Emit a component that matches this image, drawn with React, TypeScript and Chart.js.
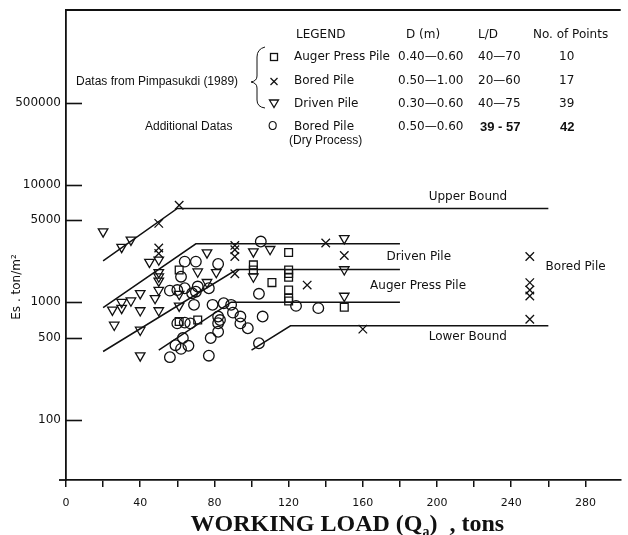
import React, { useEffect, useRef } from 'react';
import { Chart, registerables } from 'chart.js';

Chart.register(...registerables);

// ---- data ----
const drivenX = [20, 30, 35, 45, 50, 50, 50, 50, 25, 30, 30, 35, 40, 40, 48, 50, 50, 26, 40, 40, 61, 61, 71, 76, 76, 81, 101, 101, 110, 150, 150, 150];
const drivenY = [4000, 2950, 3400, 2200, 2300, 1800, 1650, 1520, 860, 890, 1000, 1030, 1190, 850, 1080, 1270, 850, 640, 580, 350, 930, 1170, 1820, 2650, 1480, 1800, 2700, 1650, 2830, 3500, 1900, 1130];

const boredX = [50, 61, 50, 50, 91, 91, 91, 91, 140, 150, 130, 160, 250, 250, 250, 250, 250];
const boredY = [4700, 6700, 2900, 2600, 3050, 2800, 2450, 1750, 3200, 2500, 1400, 590, 2450, 1470, 1270, 1130, 715];

const augerX = [61, 61, 71, 101, 101, 120, 120, 120, 120, 111, 120, 120, 120, 150];
const augerY = [1880, 685, 705, 2080, 1880, 2650, 1880, 1760, 1630, 1470, 1270, 1080, 1025, 905];

const dryX = [105, 64, 70, 82, 62, 56, 60, 64, 70, 71, 77, 69, 79, 85, 89, 104, 60, 64, 67, 82, 83, 90, 94, 94, 98, 106, 82, 78, 63, 59, 62, 66, 56, 77, 104, 124, 136, 82, 68];
const dryY = [3290, 2220, 2220, 2120, 1650, 1255, 1270, 1315, 1230, 1360, 1315, 950, 950, 980, 950, 1180, 660, 670, 660, 755, 705, 815, 755, 660, 600, 755, 560, 495, 495, 430, 400, 425, 340, 350, 447, 930, 890, 662, 1193];

const upperBoundX = [20, 60, 260];
const upperBoundY = [2250, 6300, 6300];
const drivenLineX = [20, 70, 180];
const drivenLineY = [900, 3150, 3150];
const augerLineX = [20, 92, 180];
const augerLineY = [380, 1900, 1900];
const dryLineX = [50, 89, 180];
const dryLineY = [390, 1000, 1000];
const lowerBoundX = [100, 121, 260];
const lowerBoundY = [390, 630, 630];

const lineLabelText = ['Upper Bound', 'Driven Pile', 'Auger Press Pile', 'Lower Bound', 'Bored Pile'];
const lineLabelX = [195.5, 172.8, 163.9, 195.5, 258.5];
const lineLabelY = [7940, 2419, 1385, 503, 1988];

const yTickValues = [100, 500, 1000, 5000, 10000, 50000];
const yTickLabels = ['100', '500', '1000', '5000', '10000', '500000'];
const xMin = 0;
const xMax = 299;
const xMinorStep = 20;
const xLabelStep = 40;

const legendHeader = ['LEGEND', 'D (m)', 'L/D', 'No. of Points'];
const legendNames = ['Auger Press Pile', 'Bored Pile', 'Driven Pile', 'Bored Pile'];
const legendDiam = ['0.40\u20140.60', '0.50\u20141.00', '0.30\u20140.60', '0.50\u20140.60'];
const legendLD = ['40\u201470', '20\u201460', '40\u201475', '39 - 57'];
const legendCount = ['10', '17', '39', '42'];

const INK = '#111';

const pts = (xs: number[], ys: number[]) => xs.map((x, i) => ({ x, y: ys[i] }));

const lineDs = (xs: number[], ys: number[]) => ({
  type: 'line' as const,
  data: pts(xs, ys),
  borderColor: INK,
  borderWidth: 1.5,
  pointRadius: 0,
  fill: false,
  tension: 0,
});

const markDs = (xs: number[], ys: number[], style: string, radius: number, rotation = 0) => ({
  type: 'scatter' as const,
  data: pts(xs, ys),
  pointStyle: style,
  pointRadius: radius,
  pointRotation: rotation,
  pointBorderColor: INK,
  pointBackgroundColor: 'rgba(0,0,0,0)',
  pointBorderWidth: 1.3,
  borderColor: INK,
  backgroundColor: 'rgba(0,0,0,0)',
});

const decor = {
  id: 'decor',
  afterDraw(chart: any) {
    const { ctx, chartArea: a, scales } = chart;
    const x = scales.x;
    const y = scales.y;
    const seg = (x1: number, y1: number, x2: number, y2: number) => {
      ctx.beginPath();
      ctx.moveTo(x1, y1);
      ctx.lineTo(x2, y2);
      ctx.stroke();
    };
    ctx.save();
    ctx.strokeStyle = INK;
    ctx.fillStyle = INK;
    ctx.lineWidth = 1.8;
    // top frame line
    seg(a.left - 1, a.top, a.right, a.top);
    // x axis small extension to the left
    seg(a.left - 7, a.bottom, a.left, a.bottom);
    // inside y ticks
    ctx.lineWidth = 1.6;
    for (const v of yTickValues) {
      const py = Math.round(y.getPixelForValue(v)) + 0.5;
      seg(a.left, py, a.left + 16, py);
    }

    // y axis title
    ctx.save();
    ctx.translate(17, 287);
    ctx.rotate(-Math.PI / 2);
    ctx.font = '12px "DejaVu Sans"';
    ctx.textAlign = 'center';
    ctx.textBaseline = 'middle';
    ctx.fillText('Es . ton/m\u00b2', 0, 0);
    ctx.restore();

    // x axis title with subscript
    {
      const big = 'bold 24px "Liberation Serif"';
      const small = 'bold 14px "Liberation Serif"';
      const p1 = 'WORKING LOAD (Q';
      const sub = 'a';
      const p2 = ')  , tons';
      ctx.font = big;
      const w1 = ctx.measureText(p1).width;
      const w3 = ctx.measureText(p2).width;
      ctx.font = small;
      const w2 = ctx.measureText(sub).width;
      const total = w1 + w2 + w3;
      const cx = (a.left + a.right) / 2 + 4;
      let sx = cx - total / 2;
      const base = 531;
      ctx.textAlign = 'left';
      ctx.textBaseline = 'alphabetic';
      ctx.font = big;
      ctx.fillText(p1, sx, base);
      sx += w1;
      ctx.font = small;
      ctx.fillText(sub, sx, base + 5);
      sx += w2;
      ctx.font = big;
      ctx.fillText(p2, sx, base);
    }

    // labels on the bound lines
    ctx.font = '12px "DejaVu Sans"';
    ctx.textAlign = 'left';
    ctx.textBaseline = 'middle';
    lineLabelText.forEach((t, i) => {
      ctx.fillText(t, x.getPixelForValue(lineLabelX[i]), y.getPixelForValue(lineLabelY[i]));
    });

    // legend table
    const rowY = [57, 81, 104, 127];
    const colName = 294;
    const colD = 398;
    const colLD = 478;
    const colN = 559;
    ctx.font = '12px "DejaVu Sans"';
    ctx.fillText(legendHeader[0], 296, 35);
    ctx.fillText(legendHeader[1], 406, 35);
    ctx.fillText(legendHeader[2], 478, 35);
    ctx.fillText(legendHeader[3], 533, 35);
    for (let i = 0; i < 4; i++) {
      const bold = i === 3;
      ctx.font = '12px "DejaVu Sans"';
      ctx.fillText(legendNames[i], colName, rowY[i]);
      ctx.fillText(legendDiam[i], colD, rowY[i]);
      ctx.font = bold ? 'bold 13px "Liberation Sans"' : '12px "DejaVu Sans"';
      ctx.fillText(legendLD[i], bold ? colLD + 2 : colLD, rowY[i]);
      ctx.fillText(legendCount[i], bold ? colN + 1 : colN, rowY[i]);
    }
    ctx.font = '12px "Liberation Sans"';
    ctx.fillText('(Dry Process)', 289, 141);
    ctx.fillText('Datas from Pimpasukdi (1989)', 76, 82);
    ctx.fillText('Additional Datas', 145, 127);
    ctx.fillText('O', 268, 127);

    // legend symbols
    ctx.lineWidth = 1.3;
    ctx.strokeRect(270.5, 53.5, 7, 7);
    seg(270.5, 78, 277.5, 85);
    seg(277.5, 78, 270.5, 85);
    ctx.beginPath();
    ctx.moveTo(269.5, 100);
    ctx.lineTo(278.5, 100);
    ctx.lineTo(274, 107.5);
    ctx.closePath();
    ctx.stroke();

    // brace
    ctx.lineWidth = 1;
    ctx.beginPath();
    ctx.moveTo(265, 47);
    ctx.quadraticCurveTo(257, 49, 257, 57);
    ctx.lineTo(257, 76);
    ctx.quadraticCurveTo(257, 81, 251, 82);
    ctx.quadraticCurveTo(257, 83, 257, 88);
    ctx.lineTo(257, 100);
    ctx.quadraticCurveTo(257, 107, 265, 108);
    ctx.stroke();

    ctx.restore();
  },
};

export default function App() {
  const ref = useRef<HTMLCanvasElement | null>(null);

  useEffect(() => {
    const canvas = ref.current;
    if (!canvas) return;
    const chart = new Chart(canvas, {
      type: 'scatter',
      data: {
        datasets: [
          lineDs(upperBoundX, upperBoundY),
          lineDs(drivenLineX, drivenLineY),
          lineDs(augerLineX, augerLineY),
          lineDs(dryLineX, dryLineY),
          lineDs(lowerBoundX, lowerBoundY),
          markDs(augerX, augerY, 'rect', 5.5),
          markDs(boredX, boredY, 'crossRot', 6),
          markDs(drivenX, drivenY, 'triangle', 5.5, 180),
          markDs(dryX, dryY, 'circle', 5.3),
        ] as any,
      },
      options: {
        responsive: false,
        animation: false,
        events: [],
        layout: { padding: { top: 10, left: 0, right: 0, bottom: 0 } },
        plugins: {
          legend: { display: false },
          tooltip: { enabled: false },
        },
        scales: {
          x: {
            type: 'linear',
            min: xMin,
            max: xMax,
            afterFit: (s: any) => {
              s.height = 55;
              s.paddingLeft = 0;
              s.paddingRight = 0;
            },
            grid: {
              display: true,
              drawOnChartArea: false,
              drawTicks: true,
              tickLength: 7,
              color: INK,
              lineWidth: 1.5,
            },
            border: { display: true, color: INK, width: 1.8 },
            ticks: {
              stepSize: xMinorStep,
              includeBounds: false,
              autoSkip: false,
              maxRotation: 0,
              padding: 10,
              color: INK,
              font: { family: 'DejaVu Sans', size: 11 },
              callback: (v: any) => (Number(v) % xLabelStep === 0 ? String(v) : ''),
            },
          },
          y: {
            type: 'logarithmic',
            min: 30.5,
            max: 310000,
            afterFit: (s: any) => {
              s.width = 66;
              s.paddingTop = 0;
              s.paddingBottom = 0;
            },
            afterBuildTicks: (s: any) => {
              s.ticks = yTickValues.map((v) => ({ value: v }));
            },
            grid: { display: false, drawTicks: false },
            border: { display: true, color: INK, width: 1.8 },
            ticks: {
              autoSkip: false,
              padding: 5,
              color: INK,
              font: { family: 'DejaVu Sans', size: 12 },
              callback: (_v: any, i: number) => yTickLabels[i],
            },
          },
        },
      } as any,
      plugins: [decor],
    });
    return () => chart.destroy();
  }, []);

  return (
    <div style={{ position: 'absolute', left: 0, top: 0, width: 628, height: 535, background: '#fff' }}>
      <canvas ref={ref} width={628} height={535} style={{ display: 'block', width: 628, height: 535 }} />
    </div>
  );
}
